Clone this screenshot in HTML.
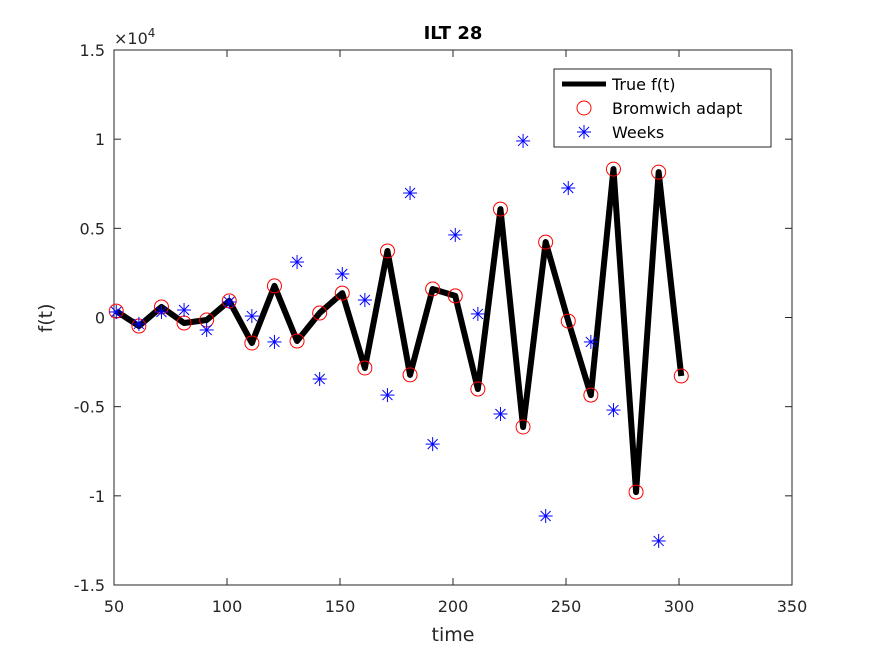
<!DOCTYPE html>
<html><head><meta charset="utf-8"><style>
body{margin:0;background:#fff;font-family:"DejaVu Sans","Liberation Sans",sans-serif}
svg text{font-family:"DejaVu Sans","Liberation Sans",sans-serif}
</style></head><body>
<svg width="875" height="656" viewBox="0 0 875 656">
<rect x="0" y="0" width="875" height="656" fill="#fff"/>
<rect x="114" y="50" width="678" height="535" fill="#fff" stroke="#262626" stroke-width="1"/>
<g id="ticks"></g>
<g id="series"></g>
<text x="453" y="39" text-anchor="middle" font-size="18" font-weight="bold" fill="#000">ILT 28</text>
<text x="453" y="641" text-anchor="middle" font-size="19" fill="#262626">time</text>
<text transform="translate(52,318) rotate(-90)" text-anchor="middle" font-size="19" fill="#262626">f(t)</text>
<text x="114" y="44" font-size="16" fill="#262626">×10<tspan dy="-7" font-size="12">4</tspan></text>
<g>
<rect x="554" y="69" width="217" height="78" fill="#fff" stroke="#262626" stroke-width="1"/>
<line x1="562" y1="84" x2="606" y2="84" stroke="#000" stroke-width="5"/>
<text x="612" y="90" font-size="16" fill="#000">True f(t)</text>
<circle cx="584" cy="108" r="7" fill="none" stroke="#f00" stroke-width="1"/>
<text x="612" y="114" font-size="16" fill="#000">Bromwich adapt</text>
<g stroke="#00f" stroke-width="1"><line x1="577" y1="132" x2="591" y2="132"/><line x1="584" y1="125" x2="584" y2="139"/><line x1="579" y1="127" x2="589" y2="137"/><line x1="589" y1="127" x2="579" y2="137"/></g>
<text x="612" y="138" font-size="16" fill="#000">Weeks</text>
</g>
</svg>
<script>
const times=[51,61,71,81,91,101,111,121,131,141,151,161,171,181,191,201,211,221,231,241,251,261,271,281,291,301];
const trueVals=[360,-480,590,-310,-140,930,-1430,1770,-1320,250,1370,-2830,3730,-3220,1600,1210,-4010,6080,-6140,4230,-200,-4350,8320,-9790,8150,-3280];
const bromVals=[360,-480,590,-310,-140,930,-1430,1770,-1320,250,1370,-2830,3730,-3220,1600,1210,-4010,6080,-6140,4230,-200,-4350,8320,-9790,8150,-3280];
const weeksVals=[310,-360,310,420,-700,870,80,-1370,3110,-3450,2440,980,-4350,6980,-7100,4630,200,-5410,9900,-11130,7260,-1370,-5190,null,-12530];
const xTicks=[50,100,150,200,250,300,350];
const yTicks=[-15000,-10000,-5000,0,5000,10000,15000];
const yTickLabels=["-1.5","-1","-0.5","0","0.5","1","1.5"];
const NS="http://www.w3.org/2000/svg";
const X=v=>114+(v-50)/300*678;
const Y=v=>585-(v+15000)/30000*535;
function mk(tag,at,parent){const e=document.createElementNS(NS,tag);for(const k in at)e.setAttribute(k,at[k]);parent.appendChild(e);return e;}
const tg=document.getElementById('ticks');
xTicks.forEach(t=>{
 const l=mk('line',{x1:X(t),x2:X(t),y1:585,y2:578,stroke:'#262626'},tg);
 
 
 mk('line',{x1:X(t),x2:X(t),y1:50,y2:57,stroke:'#262626'},tg);
 const tx=mk('text',{x:X(t),y:612,'text-anchor':'middle','font-size':16,fill:'#262626'},tg);
 tx.textContent=t;
 
 
});
yTicks.forEach((t,i)=>{
 const l=mk('line',{x1:114,x2:121,y1:Y(t),y2:Y(t),stroke:'#262626'},tg);
 
 
 mk('line',{x1:785,x2:792,y1:Y(t),y2:Y(t),stroke:'#262626'},tg);
 const tx=mk('text',{x:105,y:Y(t)+6,'text-anchor':'end','font-size':16,fill:'#262626'},tg);
 tx.textContent=yTickLabels[i];
 
 
});
const sg=document.getElementById('series');
const pl=mk('polyline',{points:times.map((t,i)=>X(t)+','+Y(trueVals[i])).join(' '),fill:'none',stroke:'#000','stroke-width':6,'stroke-linejoin':'round'},sg);


bromVals.forEach((v,i)=>{
 const c=mk('circle',{cx:X(times[i]),cy:Y(v),r:7,fill:'none',stroke:'#f00','stroke-width':1},sg);
 
 
});
weeksVals.forEach((v,i)=>{
 if(v===null)return;
 const cx=X(times[i]),cy=Y(v);
 const g=mk('g',{stroke:'#00f','stroke-width':1},sg);
 
 
 mk('line',{x1:cx-7,x2:cx+7,y1:cy,y2:cy},g);
 mk('line',{x1:cx,x2:cx,y1:cy-7,y2:cy+7},g);
 mk('line',{x1:cx-5,x2:cx+5,y1:cy-5,y2:cy+5},g);
 mk('line',{x1:cx+5,x2:cx-5,y1:cy-5,y2:cy+5},g);
});
</script>
</body></html>
